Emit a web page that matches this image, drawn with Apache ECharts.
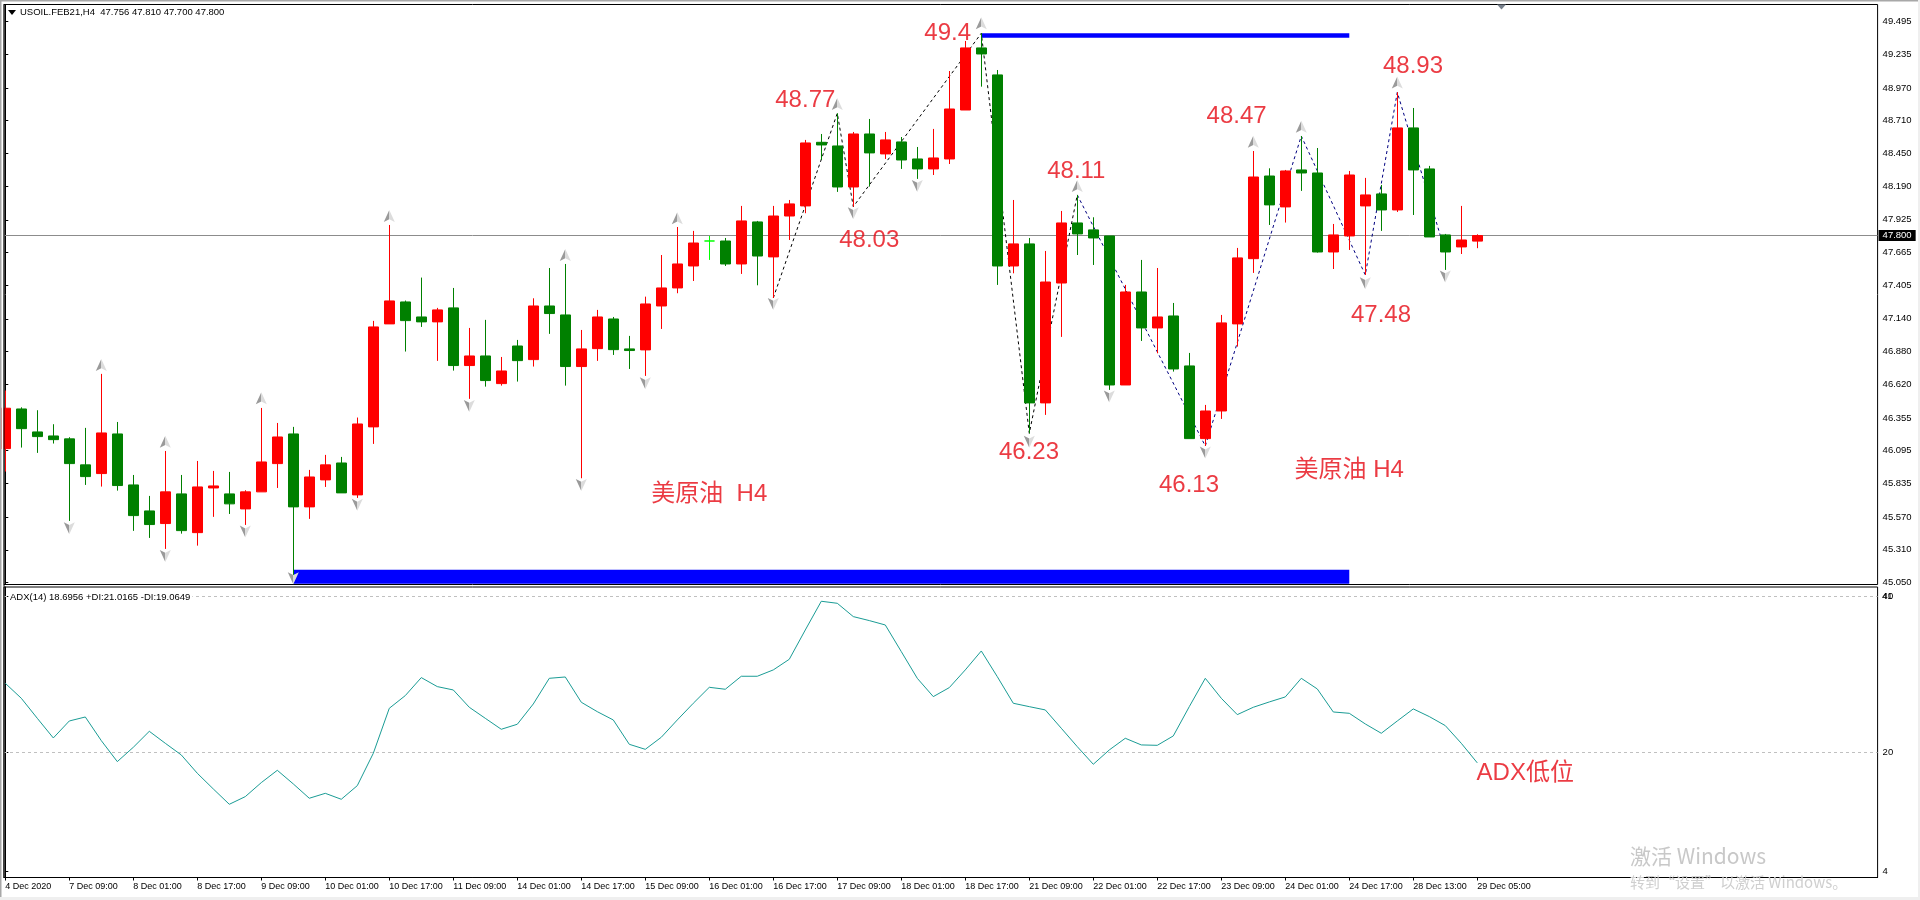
<!DOCTYPE html>
<html>
<head>
<meta charset="utf-8">
<title>USOIL.FEB21,H4</title>
<script src="https://cdn.jsdelivr.net/npm/echarts@6/dist/echarts.min.js"></script>
<style>
html, body { margin: 0; padding: 0; background: #fff; }
#main { width: 1920px; height: 900px; }
</style>
</head>
<body>
<div id="main"></div>
<script>
// 4H bars
var opens = [46.112, 46.426, 46.244, 46.212, 46.189, 45.983, 45.914, 46.228, 45.824, 45.618,
	45.518, 45.753, 45.446, 45.800, 45.753, 45.634, 45.769, 45.993, 46.228, 45.650,
	45.864, 45.998, 45.745, 46.284, 47.100, 47.274, 47.155, 47.116, 47.227, 46.770,
	46.846, 46.627, 46.925, 46.817, 47.242, 47.171, 46.762, 46.904, 47.139, 46.902,
	46.894, 47.242, 47.385, 47.559, 47.757, 47.757, 47.575, 47.908, 47.631, 47.955,
	48.035, 48.539, 48.510, 48.185, 48.605, 48.447, 48.542, 48.407, 48.328, 48.407,
	48.795, 49.287, 49.073, 47.559, 47.734, 46.474, 47.424, 47.900, 47.845, 47.797,
	46.616, 47.353, 47.068, 47.163, 46.767, 46.191, 46.410, 47.100, 47.617, 48.272,
	48.027, 48.320, 48.296, 47.670, 47.797, 48.035, 48.130, 48.003, 48.653, 48.328,
	47.805, 47.710, 47.756];
var closes = [46.432, 46.270, 46.207, 46.183, 45.993, 45.890, 46.236, 45.819, 45.581, 45.510,
	45.769, 45.462, 45.808, 45.816, 45.674, 45.769, 46.006, 46.204, 45.650, 45.887,
	45.983, 45.761, 46.307, 47.076, 47.282, 47.126, 47.116, 47.211, 46.770, 46.846,
	46.651, 46.727, 46.809, 47.242, 47.182, 46.762, 46.902, 47.155, 46.896, 46.889,
	47.258, 47.385, 47.575, 47.741, 47.757, 47.575, 47.916, 47.638, 47.955, 48.051,
	48.534, 48.518, 48.185, 48.605, 48.455, 48.558, 48.399, 48.328, 48.415, 48.803,
	49.287, 49.239, 47.559, 47.734, 46.474, 47.432, 47.900, 47.813, 47.781, 46.616,
	47.353, 47.068, 47.155, 46.743, 46.191, 46.410, 47.108, 47.623, 48.264, 48.043,
	48.312, 48.296, 47.670, 47.805, 48.280, 48.122, 48.003, 48.653, 48.320, 47.789,
	47.670, 47.765, 47.800];
var lows = [45.930, 46.120, 46.078, 46.152, 45.539, 45.824, 45.811, 45.779, 45.460, 45.404,
	45.317, 45.438, 45.343, 45.571, 45.594, 45.507, 45.769, 45.800, 45.045, 45.555,
	45.808, 45.761, 45.721, 46.149, 47.100, 46.881, 47.076, 46.807, 46.730, 46.506,
	46.603, 46.611, 46.643, 46.762, 47.021, 46.611, 45.877, 46.807, 46.854, 46.743,
	46.688, 47.060, 47.343, 47.440, 47.607, 47.559, 47.496, 47.406, 47.306, 47.765,
	47.977, 48.399, 48.146, 48.029, 48.188, 48.407, 48.328, 48.249, 48.280, 48.367,
	48.795, 48.980, 47.409, 47.501, 46.233, 46.379, 46.997, 47.646, 47.567, 46.577,
	46.616, 46.965, 46.867, 46.722, 46.191, 46.133, 46.347, 46.920, 47.504, 47.884,
	47.903, 48.154, 47.665, 47.535, 47.686, 47.488, 47.837, 47.987, 47.963, 47.789,
	47.528, 47.654, 47.700];
var highs = [46.572, 46.439, 46.416, 46.305, 46.202, 46.276, 46.704, 46.323, 45.903, 45.737,
	46.093, 45.903, 46.014, 45.935, 45.927, 45.782, 46.434, 46.315, 46.284, 45.943,
	46.062, 46.046, 46.358, 47.124, 47.884, 47.285, 47.467, 47.227, 47.385, 47.068,
	47.132, 46.838, 46.973, 47.303, 47.543, 47.575, 47.052, 47.211, 47.155, 47.005,
	47.316, 47.646, 47.868, 47.837, 47.797, 47.781, 48.035, 47.916, 48.035, 48.082,
	48.558, 48.605, 48.769, 48.621, 48.724, 48.621, 48.581, 48.502, 48.645, 49.104,
	49.342, 49.403, 49.112, 48.082, 47.781, 47.678, 47.995, 48.122, 47.945, 47.797,
	47.409, 47.607, 47.543, 47.266, 46.870, 46.458, 47.171, 47.702, 48.470, 48.333,
	48.320, 48.589, 48.494, 47.892, 48.312, 48.257, 48.201, 48.935, 48.811, 48.352,
	47.813, 48.035, 47.810];
var adxValues = [28.86, 26.95, 24.39, 21.88, 24.05, 24.56, 21.54, 18.86, 20.69, 22.73,
	21.20, 19.71, 17.37, 15.37, 13.41, 14.39, 16.18, 17.75, 16.01, 14.18,
	14.81, 14.05, 15.79, 19.92, 25.67, 27.29, 29.59, 28.44, 28.01, 25.80,
	24.39, 22.99, 23.63, 26.22, 29.50, 29.67, 26.44, 25.24, 24.18, 21.07,
	20.43, 21.97, 24.18, 26.31, 28.35, 28.10, 29.76, 29.76, 30.57, 31.93,
	35.67, 39.34, 39.08, 37.38, 36.87, 36.31, 32.91, 29.50, 27.16, 28.31,
	30.57, 32.99, 29.71, 26.31, 25.88, 25.46, 23.12, 20.77, 18.52, 20.35,
	21.84, 20.99, 20.94, 22.14, 25.88, 29.50, 26.95, 24.86, 25.80, 26.48,
	27.12, 29.50, 28.14, 25.20, 25.03, 23.67, 22.48, 24.05, 25.59, 24.61,
	23.46, 21.20, 18.70];

var priceTicks = [49.495, 49.235, 48.970, 48.710, 48.450, 48.190, 47.925, 47.665, 47.405,
	47.140, 46.880, 46.620, 46.355, 46.095, 45.835, 45.570, 45.310, 45.050];
var adxTicks = [40, 20, 4.89];
var adxLevels = [40, 20];
var timeLabels = ['4 Dec 2020', '7 Dec 09:00', '8 Dec 01:00', '8 Dec 17:00', '9 Dec 09:00',
	'10 Dec 01:00', '10 Dec 17:00', '11 Dec 09:00', '14 Dec 01:00', '14 Dec 17:00',
	'15 Dec 09:00', '16 Dec 01:00', '16 Dec 17:00', '17 Dec 09:00', '18 Dec 01:00',
	'18 Dec 17:00', '21 Dec 09:00', '22 Dec 01:00', '22 Dec 17:00', '23 Dec 09:00',
	'24 Dec 01:00', '24 Dec 17:00', '28 Dec 13:00', '29 Dec 05:00'];
var timeTickBars = [0, 4, 8, 12, 16, 20, 24, 28, 32, 36, 40, 44, 48, 52, 56, 60, 64, 68, 72, 76, 80, 84, 88, 92];

// fractal arrows
var upArrowBars = [6, 10, 16, 24, 35, 42, 52, 61, 67, 78, 81, 87];
var upArrowPrices = [46.775, 46.167, 46.511, 47.955, 47.646, 47.937, 48.843, 49.482, 48.193, 48.544, 48.663, 49.012];
var downArrowBars = [4, 10, 15, 18, 22, 29, 36, 40, 48, 53, 57, 64, 69, 75, 85, 90];
var downArrowPrices = [45.481, 45.261, 45.454, 45.084, 45.666, 46.450, 45.824, 46.630, 47.258, 47.977, 48.193, 46.167, 46.524, 46.080, 47.422, 47.475];

// zigzag
var zigBlackBars = [48, 52, 53, 61, 64, 67];
var zigBlackPrices = [47.306, 48.769, 48.029, 49.403, 46.233, 48.122];
var zigNavyBars = [67, 75, 81, 85, 87, 90];
var zigNavyPrices = [48.122, 46.133, 48.589, 47.488, 48.935, 47.670];

// hand drawn notes
var noteTexts = ['49.4', '48.77', '48.03', '48.11', '48.47', '48.93', '46.23', '46.13', '47.48', '美原油  H4', '美原油 H4'];
var noteBars = [58.9, 50, 54, 66.94, 76.96, 87.98, 63.98, 73.98, 85.98, 44, 84];
var notePrices = [49.406, 48.875, 47.758, 48.307, 48.743, 49.142, 46.081, 45.824, 47.166, 45.75, 45.94];

// blue boxes: first bar, last bar, low, high
var topBox = [61, 84, 49.367, 49.403];
var bottomBox = [18, 84, 45.040, 45.151];

var lastPrice = 47.800;
var mainTitle = 'USOIL.FEB21,H4  47.756 47.810 47.700 47.800';
var adxTitle = 'ADX(14) 18.6956 +DI:21.0165 -DI:19.0649';

var tickFont = '"Liberation Sans", sans-serif';
var noteFont = '"Liberation Sans", "Noto Sans CJK SC", sans-serif';
var noteColor = '#e60a14';
var xMin = -0.08125, xMax = 117.02;

function pairs(xs, ys) {
	return xs.map(function(x, k) {
				return [x, ys[k]];
			});
}

var candleData = opens.map(function(o, i) {
			var row = [i, o, closes[i], lows[i], highs[i]];
			if (i == 44) {
				// the only unchanged bar, drawn lime in the terminal
				return {
					value : row,
					itemStyle : {
						color : '#00ff00',
						color0 : '#00ff00',
						borderColor : '#00ff00',
						borderColor0 : '#00ff00',
						borderColorDoji : '#00ff00'
					}
				};
			}
			return row;
		});

var arrowFill = {
	type : 'linear',
	x : 0,
	y : 0,
	x2 : 1,
	y2 : 0,
	colorStops : [{
				offset : 0,
				color : '#9a9a9a'
			}, {
				offset : 0.5,
				color : '#9a9a9a'
			}, {
				offset : 0.5,
				color : '#dcdcdc'
			}, {
				offset : 1,
				color : '#dcdcdc'
			}]
};

function arrowSeries(bars, prices, path) {
	return {
		type : 'scatter',
		xAxisIndex : 0,
		yAxisIndex : 0,
		z : 4,
		silent : true,
		symbol : path,
		symbolSize : [11, 12],
		itemStyle : {
			color : arrowFill,
			opacity : 1
		},
		data : pairs(bars, prices)
	};
}

function zigSeries(bars, prices, color) {
	return {
		type : 'line',
		xAxisIndex : 0,
		yAxisIndex : 0,
		z : 1,
		silent : true,
		showSymbol : false,
		lineStyle : {
			color : color,
			width : 1,
			type : [3, 3]
		},
		data : pairs(bars, prices)
	};
}

function noteLabel(axisIndex, data) {
	return {
		type : 'scatter',
		xAxisIndex : axisIndex,
		yAxisIndex : axisIndex,
		z : 6,
		silent : true,
		symbolSize : 1,
		itemStyle : {
			color : 'rgba(0,0,0,0)'
		},
		label : {
			show : true,
			position : 'inside',
			color : noteColor,
			textBorderWidth : 0,
			fontFamily : noteFont,
			fontSize : 24,
			formatter : function(p) {
				return p.value[2];
			}
		},
		data : data
	};
}

var noteData = noteTexts.map(function(t, k) {
			return [noteBars[k], notePrices[k], t];
		});

var myChart = echarts.init(document.getElementById('main'));

var option = {
	animation : false,
	backgroundColor : '#ffffff',
	title : [{
				text : mainTitle,
				left : 20,
				top : 7,
				padding : 0,
				textStyle : {
					fontFamily : tickFont,
					fontSize : 9.5,
					fontWeight : 'normal',
					color : '#000'
				}
			}, {
				text : adxTitle,
				left : 9,
				top : 592,
				padding : [0, 2, 0, 1],
				backgroundColor : '#fff',
				textStyle : {
					fontFamily : tickFont,
					fontSize : 9.5,
					fontWeight : 'normal',
					color : '#000'
				}
			}],
	grid : [{
				left : 4,
				top : 4.5,
				width : 1873.6,
				height : 580,
				show : true,
				borderColor : '#000',
				borderWidth : 1,
				backgroundColor : '#fff'
			}, {
				left : 4,
				top : 587,
				width : 1873.6,
				height : 290.5,
				show : true,
				borderColor : '#000',
				borderWidth : 1,
				backgroundColor : '#fff'
			}],
	xAxis : [{
				type : 'value',
				gridIndex : 0,
				min : xMin,
				max : xMax,
				show : false,
				splitLine : {
					show : false
				}
			}, {
				type : 'value',
				gridIndex : 1,
				min : xMin,
				max : xMax,
				splitLine : {
					show : false
				},
				axisLine : {
					lineStyle : {
						color : '#000'
					}
				},
				axisTick : {
					show : true,
					length : 3,
					customValues : timeTickBars,
					lineStyle : {
						color : '#000'
					}
				},
				axisLabel : {
					customValues : timeTickBars,
					showMinLabel : true,
					showMaxLabel : true,
					align : 'left',
					margin : 5,
					color : '#000',
					fontFamily : tickFont,
					fontSize : 9,
					formatter : function(v) {
						return timeLabels[timeTickBars.indexOf(v)];
					}
				}
			}],
	yAxis : [{
				type : 'value',
				gridIndex : 0,
				position : 'right',
				min : 45.035,
				max : 49.631,
				splitLine : {
					show : false
				},
				axisLine : {
					show : true,
					lineStyle : {
						color : '#000'
					}
				},
				axisTick : {
					show : true,
					length : 3,
					customValues : priceTicks,
					lineStyle : {
						color : '#000'
					}
				},
				axisLabel : {
					customValues : priceTicks,
					margin : 5,
					color : '#000',
					fontFamily : tickFont,
					fontSize : 9.5,
					formatter : function(v) {
						return v.toFixed(3);
					}
				}
			}, {
				type : 'value',
				gridIndex : 1,
				position : 'right',
				min : 4.06,
				max : 41.16,
				splitLine : {
					show : false
				},
				axisLine : {
					show : true,
					lineStyle : {
						color : '#000'
					}
				},
				axisTick : {
					show : true,
					length : 3,
					customValues : adxTicks,
					lineStyle : {
						color : '#000'
					}
				},
				axisLabel : {
					customValues : adxTicks,
					margin : 5,
					color : '#000',
					fontFamily : tickFont,
					fontSize : 9.5,
					formatter : function(v) {
						return String(Math.floor(v));
					}
				}
			}],
	series : [{
				type : 'candlestick',
				xAxisIndex : 0,
				yAxisIndex : 0,
				z : 2,
				silent : true,
				barWidth : 10,
				encode : {
					x : 0,
					y : [1, 2, 3, 4]
				},
				itemStyle : {
					color : '#ff0000',
					color0 : '#008000',
					borderColor : '#ff0000',
					borderColor0 : '#008000',
					borderColorDoji : '#ff0000',
					borderWidth : 1
				},
				markLine : {
					silent : true,
					z : 1,
					symbol : 'none',
					lineStyle : {
						color : '#8c8c8c',
						width : 1,
						type : 'solid'
					},
					label : {
						show : true,
						position : 'end',
						distance : 1,
						formatter : lastPrice.toFixed(3),
						color : '#fff',
						backgroundColor : '#000',
						padding : [1, 4, 0, 4],
						fontFamily : tickFont,
						fontSize : 9.5
					},
					data : [{
								yAxis : lastPrice
							}]
				},
				markArea : {
					silent : true,
					itemStyle : {
						color : '#0000ff',
						opacity : 1
					},
					data : [[{
										xAxis : topBox[0],
										yAxis : topBox[2]
									}, {
										xAxis : topBox[1],
										yAxis : topBox[3]
									}], [{
										xAxis : bottomBox[0],
										yAxis : bottomBox[2]
									}, {
										xAxis : bottomBox[1],
										yAxis : bottomBox[3]
									}]]
				},
				data : candleData
			},
			zigSeries(zigBlackBars, zigBlackPrices, '#000000'),
			zigSeries(zigNavyBars, zigNavyPrices, '#000080'),
			arrowSeries(upArrowBars, upArrowPrices, 'path://M5,0 L10,13 L5,10 L0,13 Z'),
			arrowSeries(downArrowBars, downArrowPrices, 'path://M0,0 L5,3 L10,0 L5,13 Z'),
			noteLabel(0, noteData), {
				type : 'line',
				xAxisIndex : 1,
				yAxisIndex : 1,
				z : 2,
				silent : true,
				showSymbol : false,
				lineStyle : {
					color : '#1a9c95',
					width : 1
				},
				markLine : {
					silent : true,
					z : 1,
					symbol : 'none',
					label : {
						show : false
					},
					lineStyle : {
						color : '#c0c0c0',
						width : 1,
						type : [3, 3]
					},
					data : adxLevels.map(function(v) {
								return {
									yAxis : v
								};
							})
				},
				data : adxValues.map(function(v, i) {
							return [i, v];
						})
			},
			noteLabel(1, [[95, 17.4, 'ADX低位']])],
	graphic : [{
				// first bar is cut by the window edge
				type : 'rect',
				silent : true,
				z : 100,
				shape : {
					x : 1.5,
					y : 4,
					width : 2,
					height : 580
				},
				style : {
					fill : '#fff'
				}
			}, {
				type : 'rect',
				silent : true,
				z : 100,
				shape : {
					x : 3.5,
					y : 4,
					width : 1,
					height : 874
				},
				style : {
					fill : '#000'
				}
			}, {
				type : 'rect',
				silent : true,
				z : 100,
				shape : {
					x : 0,
					y : 0,
					width : 1920,
					height : 1.5
				},
				style : {
					fill : '#a8a8a8'
				}
			}, {
				type : 'rect',
				silent : true,
				z : 100,
				shape : {
					x : 0,
					y : 0,
					width : 1.5,
					height : 897
				},
				style : {
					fill : '#a8a8a8'
				}
			}, {
				type : 'rect',
				silent : true,
				z : 100,
				shape : {
					x : 0,
					y : 897,
					width : 1920,
					height : 3
				},
				style : {
					fill : '#efefef'
				}
			}, {
				type : 'rect',
				silent : true,
				z : 100,
				shape : {
					x : 1918,
					y : 0,
					width : 2,
					height : 900
				},
				style : {
					fill : '#efefef'
				}
			}, {
				type : 'polygon',
				silent : true,
				z : 100,
				shape : {
					points : [[8, 10], [16, 10], [12, 15]]
				},
				style : {
					fill : '#000'
				}
			}, {
				type : 'polygon',
				silent : true,
				z : 100,
				shape : {
					points : [[1497, 4.5], [1506, 4.5], [1501.5, 9.5]]
				},
				style : {
					fill : '#77808c'
				}
			}, {
				type : 'text',
				silent : true,
				z : 100,
				x : 1882,
				y : 591,
				style : {
					text : '41',
					fill : '#000',
					font : '9.5px "Liberation Sans", sans-serif'
				}
			}, {
				type : 'text',
				silent : true,
				z : 100,
				x : 1630,
				y : 846,
				style : {
					text : '激活 Windows',
					fill : '#c8c8c8',
					font : '21px "Noto Sans CJK SC", sans-serif'
				}
			}, {
				type : 'text',
				silent : true,
				z : 100,
				x : 1630,
				y : 875,
				style : {
					text : '转到“设置”以激活 Windows。',
					fill : '#cfcfcf',
					font : '15px "Noto Sans CJK SC", sans-serif'
				}
			}]
};

myChart.setOption(option);
</script>
</body>
</html>
